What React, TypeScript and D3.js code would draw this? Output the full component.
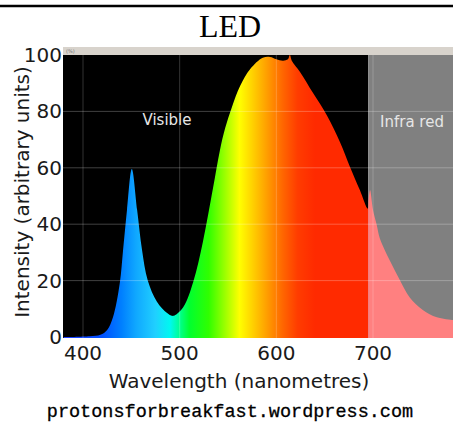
import React from 'react';
import * as d3 from 'd3';

// Wavelength (nm) and intensity (arbitrary units)
const wavelengths = [380, 407, 418, 425, 431, 438, 441.5, 445.5, 450.5, 456, 461, 467, 476.5, 487, 493, 503.5, 514, 524, 534.5, 541.5, 547, 554, 562.5, 573, 586, 593.5, 600, 607, 612, 614, 616, 624.5, 638, 652.5, 666, 676, 686.5, 694.5, 695.5, 697, 700, 704, 707, 717.5, 728, 738, 751.5, 766, 783];
const intensity = [0, 0.3, 0.8, 2.5, 7, 19, 31, 45, 59.6, 45, 31, 20, 12.5, 8.5, 7.5, 10.5, 19.5, 33.7, 52.8, 66, 74, 81.5, 89, 95, 99, 99.3, 98.5, 98, 98.5, 100, 98, 94, 86.5, 78.5, 69, 60.5, 52, 45.5, 49, 52, 45, 39.5, 35, 27, 20, 14, 9.6, 7, 6];

const xTicks = [400, 500, 600, 700];
const yTicks = [0, 20, 40, 60, 80, 100];
const infraredStart = 695;

// spectrum colour stops
const spectrumWl = [380, 420, 440, 455, 475, 490, 500, 510, 530, 550, 562, 578, 592, 606, 622, 640, 695];
const spectrumColors = ['#2040ff', '#0050ff', '#0080ff', '#10a8ff', '#20d0ff', '#00f8f0', '#00ff90', '#00ff30', '#30ff00', '#b0ff00', '#ffff00', '#ffc800', '#ff9800', '#ff6800', '#ff3c00', '#ff2a00', '#ff2a00'];

const W = 453;
const H = 424;
const plotLeft = 63;
const plotRight = 453;
const plotTop = 55;
const plotBottom = 338;

export default function App() {
  const x = d3.scaleLinear().domain([400, 700]).range([83, 373]);
  const y = d3.scaleLinear().domain([0, 100]).range([337, 55]);

  const pts = wavelengths.map((w, i) => [w, intensity[i]] as [number, number]);
  const area = d3
    .area<[number, number]>()
    .x((d) => x(d[0]))
    .y0(plotBottom)
    .y1((d) => Math.min(y(d[1]), plotBottom))
    .curve(d3.curveCatmullRom.alpha(0.5));
  const areaPath = area(pts) || '';

  const irX = x(infraredStart);
  const font = "'DejaVu Sans', sans-serif";

  return (
    <svg width={W} height={H} style={{ position: 'absolute', left: 0, top: 0, background: '#fff' }}>
      <defs>
        <linearGradient id="spec" gradientUnits="userSpaceOnUse" x1={x(spectrumWl[0])} x2={x(spectrumWl[spectrumWl.length - 1])} y1={0} y2={0}>
          {spectrumWl.map((w, i) => (
            <stop
              key={i}
              offset={(w - spectrumWl[0]) / (spectrumWl[spectrumWl.length - 1] - spectrumWl[0])}
              stopColor={spectrumColors[i]}
            />
          ))}
        </linearGradient>
        <clipPath id="visClip">
          <rect x={plotLeft} y={plotTop} width={irX - plotLeft} height={plotBottom - plotTop} />
        </clipPath>
        <clipPath id="irClip">
          <rect x={irX} y={plotTop} width={plotRight - irX} height={plotBottom - plotTop} />
        </clipPath>
      </defs>

      {/* top rule */}
      <line x1={0} x2={W} y1={6} y2={6} stroke="#000" strokeWidth={2.5} />
      <text x={230} y={37} textAnchor="middle" fontFamily="'Liberation Serif', serif" fontSize={32} fill="#000">
        LED
      </text>

      {/* plot backgrounds */}
      <rect x={plotLeft} y={47} width={plotRight - plotLeft} height={plotTop - 47} fill="#d8d3cc" />
      <text x={66} y={53} fontSize={5} fill="#777" fontFamily={font}>(%)</text>
      <rect x={plotLeft} y={plotTop} width={irX - plotLeft} height={plotBottom - plotTop} fill="#000" />
      <rect x={irX} y={plotTop} width={plotRight - irX} height={plotBottom - plotTop} fill="#808080" />

      {/* spectrum */}
      <path d={areaPath} fill="url(#spec)" clipPath="url(#visClip)" />
      <path d={areaPath} fill="#ff8080" clipPath="url(#irClip)" />

      {/* grid */}
      {yTicks.slice(1, -1).map((t) => (
        <line key={'gy' + t} x1={plotLeft} x2={plotRight} y1={y(t)} y2={y(t)} stroke="#fff" strokeOpacity={0.25} strokeWidth={1} />
      ))}
      {xTicks.map((t) => (
        <line key={'gx' + t} x1={x(t)} x2={x(t)} y1={plotTop} y2={plotBottom} stroke="#fff" strokeOpacity={0.2} strokeWidth={1} />
      ))}

      <text x={167} y={125} textAnchor="middle" fontFamily={font} fontSize={15} fill="#e6e6e6">
        Visible
      </text>
      <text x={380} y={127} fontFamily={font} fontSize={15} fill="#e6e6e6">
        Infra red
      </text>

      {/* axes labels */}
      {yTicks.map((t) => (
        <text key={'yt' + t} x={62} y={y(t) + 7} textAnchor="end" fontFamily={font} fontSize={20} fill="#1a1a1a">
          {t}
        </text>
      ))}
      {xTicks.map((t) => (
        <text key={'xt' + t} x={x(t)} y={360} textAnchor="middle" fontFamily={font} fontSize={20} fill="#1a1a1a">
          {t}
        </text>
      ))}
      <text x={239} y={388} textAnchor="middle" fontFamily={font} fontSize={20} fill="#1a1a1a">
        Wavelength (nanometres)
      </text>
      <text
        transform={`translate(29, ${192}) rotate(-90)`}
        textAnchor="middle"
        fontFamily={font}
        fontSize={20}
        fill="#1a1a1a"
      >
        Intensity (arbitrary units)
      </text>

      <text x={230} y={417} textAnchor="middle" fontFamily="'Liberation Mono', monospace" fontSize={18.5} fill="#000" stroke="#000" strokeWidth={0.3}>
        protonsforbreakfast.wordpress.com
      </text>
    </svg>
  );
}
